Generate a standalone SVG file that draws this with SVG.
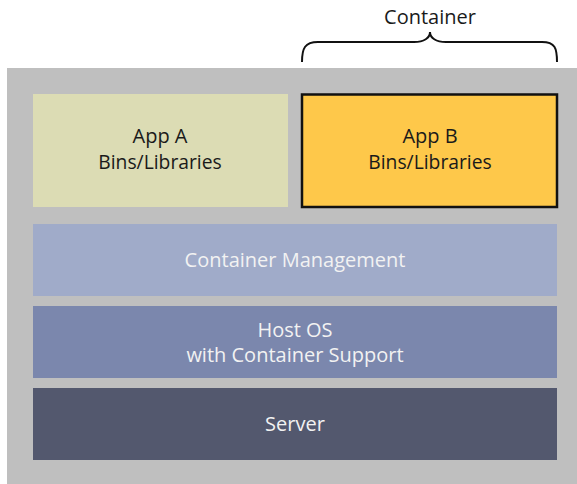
<svg xmlns="http://www.w3.org/2000/svg" width="577" height="484" viewBox="0 0 577 484">
<style>
text{font-family:"Open Sans","Noto Sans","Liberation Sans",sans-serif;font-size:20px;text-anchor:middle}
.dark{fill:#1a1a1a}
.light{fill:#f2f2f2}
</style>
<rect x="0" y="0" width="577" height="484" fill="#ffffff"/>
<rect id="host" x="7" y="68" width="570" height="416" fill="#bfbfbf"/>
<g id="appA">
<rect x="33" y="94" width="255" height="113" fill="#dcdcb4"/>
<text class="dark" x="160" y="143">App A</text>
<text class="dark" x="160" y="169" style="font-size:19.3px">Bins/Libraries</text>
</g>
<g id="appB">
<rect x="302" y="94.5" width="255" height="112.5" fill="#fec84a" stroke="#111" stroke-width="2.5"/>
<text class="dark" x="430" y="143">App B</text>
<text class="dark" x="430" y="169" style="font-size:19.3px">Bins/Libraries</text>
</g>
<g id="mgmt">
<rect x="33" y="224" width="524" height="72" fill="#a0abc9"/>
<text class="light" x="295" y="267">Container Management</text>
</g>
<g id="os">
<rect x="33" y="306" width="524" height="72" fill="#7b87ad"/>
<text class="light" x="295" y="337">Host OS</text>
<text class="light" x="295" y="362">with Container Support</text>
</g>
<g id="server">
<rect x="33" y="388" width="524" height="72" fill="#53586e"/>
<text class="light" x="295" y="431">Server</text>
</g>
<g id="container-label">
<text class="dark" x="430" y="24">Container</text>
</g>
<g id="connectors">
<path d="M302 62 C302 48 305 42 318 42 L414 42 C424 42 430 38 430 32 C430 38 436 42 446 42 L542 42 C555 42 557 48 557 62" fill="none" stroke="#111" stroke-width="2"/>
</g>
</svg>
